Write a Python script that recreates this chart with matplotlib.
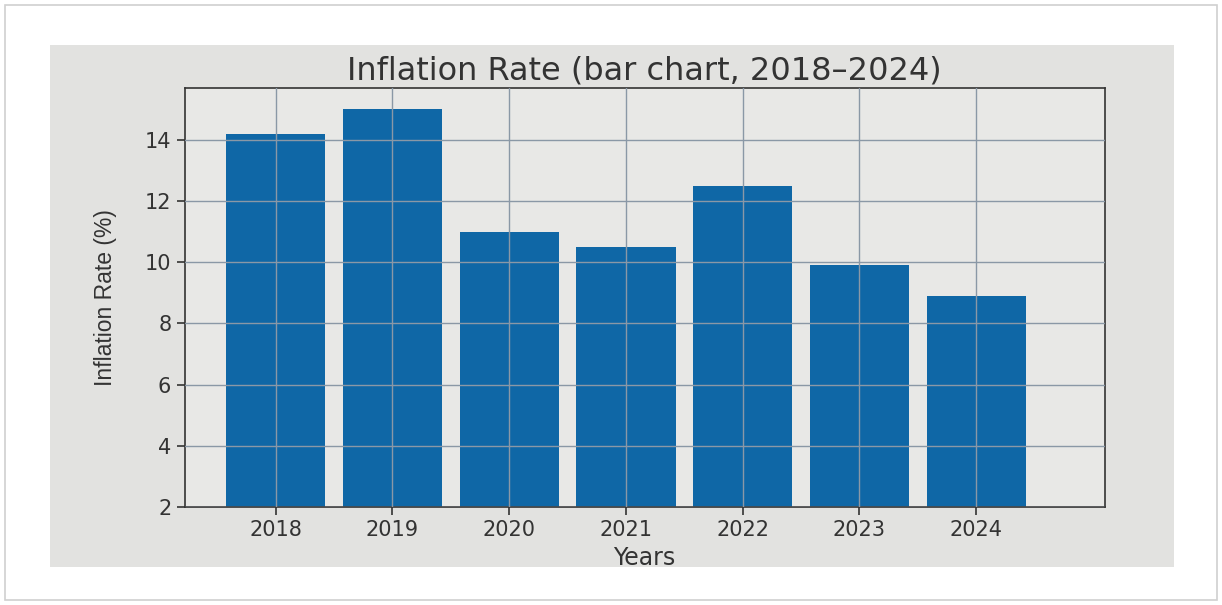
#!/usr/bin/python3
# Inflation rate bar chart, 2018-2024
import matplotlib
matplotlib.use('Agg')
import matplotlib.pyplot as plt
from matplotlib.patches import Rectangle

plt.rcParams['font.family'] = 'DejaVu Sans'

# chart data
years = [2018, 2019, 2020, 2021, 2022, 2023, 2024]
inflation = [14.2, 15.0, 11.0, 10.5, 12.5, 9.9, 8.9]
yticks = [2, 4, 6, 8, 10, 12, 14]


def main():
    fig = plt.figure(figsize=(12.22, 6.05), dpi=100, facecolor='white')

    # the photographed screen area behind the chart (drawn under the axes)
    fig.patches.append(Rectangle((0.041, 0.063), 0.92, 0.863,
                                 transform=fig.transFigure,
                                 facecolor='#e2e2e0', edgecolor='none', zorder=-2))
    fig.patches.append(Rectangle((0.004, 0.008), 0.992, 0.984,
                                 transform=fig.transFigure, fill=False,
                                 edgecolor='#d0d0d0', linewidth=1.2, zorder=-2))

    ax = fig.add_axes([0.151, 0.162, 0.753, 0.693])
    ax.set_facecolor('#e8e8e6')

    ax.bar(years, inflation, width=0.85, color='#0f67a6', zorder=2)

    # grid is drawn on top of the bars
    ax.grid(True, color='#8a98a6', linewidth=1.0, zorder=3)
    ax.set_axisbelow(False)

    ax.set_xlim(years[0] - 0.78, years[-1] + 1.1)
    ax.set_ylim(2, 15.7)
    ax.set_xticks(years)
    ax.set_yticks(yticks)
    ax.tick_params(labelsize=15, colors='#333333', length=6, width=1.2)

    for s in ax.spines.values():
        s.set_color('#333333')
        s.set_linewidth(1.2)

    ax.set_title('Inflation Rate (bar chart, 2018\u20132024)', fontsize=23,
                 color='#333333', pad=6)
    ax.set_xlabel('Years', fontsize=17, color='#333333', labelpad=4)
    ax.set_ylabel('Inflation Rate (%)', fontsize=16.5, color='#333333',
                  family='Liberation Sans', labelpad=20)

    plt.savefig('out.png', dpi=100, facecolor='white')
    print("Graph created.")


if __name__ == "__main__":
    main()
